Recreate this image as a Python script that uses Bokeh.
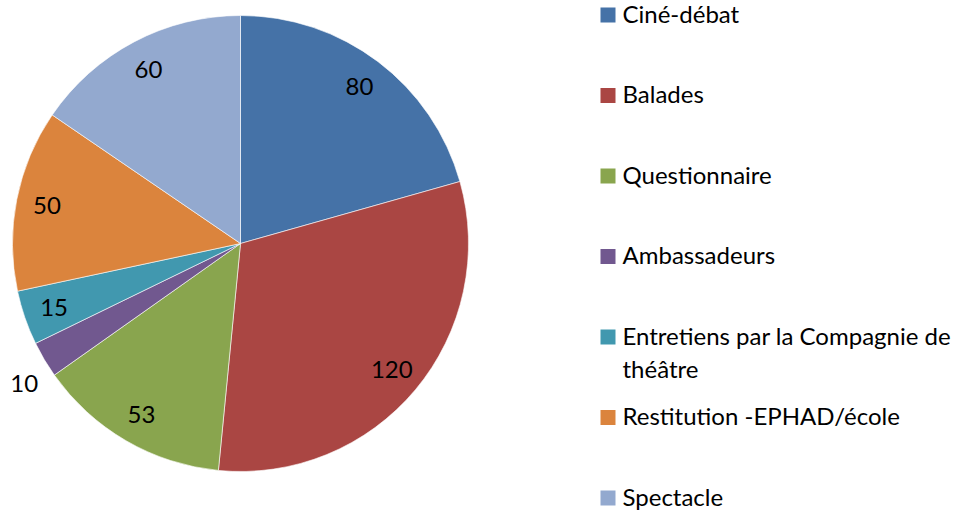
import math
from bokeh.plotting import figure
from bokeh.models import ColumnDataSource, Range1d
from bokeh.core.properties import value
from bokeh.embed import file_html
from bokeh.resources import INLINE

categories = ["Ciné-débat", "Balades", "Questionnaire", "Ambassadeurs",
              "Entretiens par la Compagnie de\nthéâtre", "Restitution -EPHAD/école", "Spectacle"]
values = [80, 120, 53, 10, 15, 50, 60]
colors = ["#4572A7", "#AA4643", "#89A54E", "#71588F", "#4198AF", "#DB843D", "#93A9CF"]

W, H = 967, 513
FONT = "Lato"
FS = "24px"

p = figure(width=W, height=H, output_backend="svg", toolbar_location=None,
           x_range=Range1d(0, W), y_range=Range1d(0, H), min_border=0)
p.axis.visible = False
p.grid.visible = False
p.outline_line_color = None
p.background_fill_color = "white"
p.border_fill_color = "white"

cx, cy, R = 240, H - 243, 228
total = sum(values)
starts, ends, lx, ly = [], [], [], []
cum = 0
for v in values:
    a0 = cum / total * 2 * math.pi
    cum += v
    a1 = cum / total * 2 * math.pi
    starts.append(math.pi / 2 - a0)
    ends.append(math.pi / 2 - a1)
    mid = (a0 + a1) / 2
    outside = v / total < 0.03
    rr = R * (1.13 if outside else 0.865)
    if outside:
        mid -= 0.04
    lx.append(cx + rr * math.sin(mid))
    ly.append(cy + rr * math.cos(mid))

src = ColumnDataSource(dict(start=starts, end=ends, color=colors, lx=lx, ly=ly,
                            lab=[str(v) for v in values]))
p.wedge(x=cx, y=cy, radius=R, start_angle="start", end_angle="end", direction="clock",
        fill_color="color", line_color="white", line_width=0.6, source=src)
p.text(x="lx", y="ly", text="lab", source=src, text_font=value(FONT), text_font_size=FS,
       text_align="center", text_baseline="middle", text_color="black")

# legend
sq_x = 600 + 7.5
tx = 622
top_c = H - 14.5
step = 80.5
leg_y = [top_c - i * step for i in range(len(categories))]
lsrc = ColumnDataSource(dict(x=[sq_x] * len(categories), y=leg_y, color=colors,
                             tx=[tx] * len(categories), ty=[y + 16.5 for y in leg_y],
                             name=categories))
p.rect(x="x", y="y", width=15, height=15, fill_color="color", line_color=None, source=lsrc)
p.text(x="tx", y="ty", text="name", source=lsrc, text_font=value(FONT), text_font_size=FS,
       text_align="left", text_baseline="top", text_color="black", text_line_height=1.15)

open("out.html", "w").write(file_html(p, INLINE))
